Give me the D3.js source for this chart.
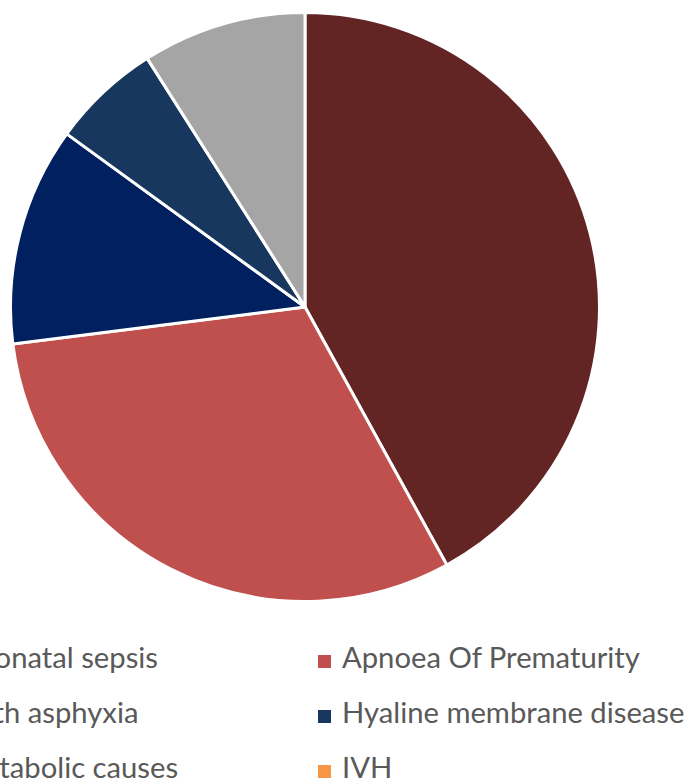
<!DOCTYPE html>
<html><head><meta charset="utf-8">
<script src="https://cdn.jsdelivr.net/npm/d3@7"></script>
<style>html,body{margin:0;padding:0;background:#fff;overflow:hidden}</style>
</head><body>
<svg id="c" width="695" height="783"></svg>
<script>
const categories = ["Neonatal sepsis","Apnoea Of Prematurity","Birth asphyxia","Hyaline membrane disease","Metabolic causes","IVH"];
const values = [42,31,12,6,9,0];
const colors = ["#632523","#C0504D","#002060","#17375E","#A5A5A5","#F79646"];

const svg = d3.select("#c");
const cx = 305, cy = 307, r = 294.5;
const pie = d3.pie().sort(null).value(d => d.v);
const data = pie(categories.map((c,i) => ({c, v: values[i], col: colors[i]})));
const arc = d3.arc().innerRadius(0).outerRadius(r);
svg.append("g").attr("transform",`translate(${cx},${cy})`)
  .selectAll("path").data(data.filter(d => d.data.v > 0)).join("path")
  .attr("d", arc).attr("fill", d => d.data.col)
  .attr("stroke","#fff").attr("stroke-width",3).attr("stroke-linejoin","round");

// legend
const font = "Lato, 'Open Sans', sans-serif";
const probe = svg.append("text").attr("font-family",font).attr("font-size",100).text("Apnoea Of Prematurity");
const fs = 100 * 298 / probe.node().getComputedTextLength();
probe.text("Neonatal sepsis");
const wNeo = probe.node().getComputedTextLength() * fs / 100;
probe.remove();
const rightX = 342, leftX = 158 - wNeo;
const baselines = [668, 723, 778];
const lg = svg.append("g");
categories.forEach((c,i) => {
  const tx = i % 2 ? rightX : leftX;
  const by = baselines[Math.floor(i/2)];
  lg.append("rect").attr("x", tx - 24).attr("y", by - 13).attr("width",13).attr("height",13).attr("fill", colors[i]);
  lg.append("text").attr("x", tx).attr("y", by).attr("font-family",font).attr("font-size",fs)
    .attr("fill","#595959").text(c);
});
</script>
</body></html>
